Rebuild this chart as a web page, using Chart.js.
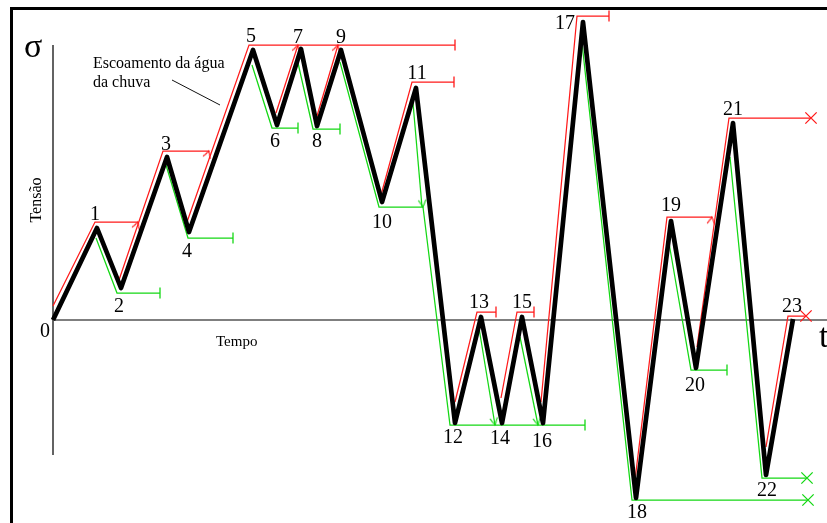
<!DOCTYPE html>
<html>
<head>
<meta charset="utf-8">
<script src="https://cdn.jsdelivr.net/npm/chart.js@4"></script>
<style>
  html, body { margin: 0; padding: 0; background: #fff; }
  #wrap { width: 827px; height: 523px; position: relative; }
</style>
</head>
<body>
<div id="wrap"><canvas id="rainflow"></canvas></div>
<script>
// turning points of the load history
const pointLabels = ['0', '1', '2', '3', '4', '5', '6', '7', '8', '9', '10', '11',
  '12', '13', '14', '15', '16', '17', '18', '19', '20', '21', '22', '23'];
const times = [0, 4.4, 6.8, 11.4, 13.6, 20.0, 22.4, 24.8, 26.4, 28.8, 32.9, 36.3,
  40.2, 42.8, 44.9, 46.9, 49.0, 53.0, 58.3, 61.8, 64.3, 68.0, 71.3, 74.0];
const stress = [0, 9.2, 3.2, 16.3, 8.8, 27.0, 19.5, 27.1, 19.4, 27.0, 11.8, 23.2,
  -10.3, 0.3, -10.3, 0.3, -10.3, 29.8, -17.8, 9.9, -4.8, 19.7, -15.5, 0.1];

// rain flow paths (time, stress); red runs up from the valleys, green down from the peaks
const redFlows = [
  [[0, 1.4], [4.2, 9.8], [8.5, 9.8]],
  [[6.6, 4.0], [11.0, 16.9], [15.6, 16.9]],
  [[13.4, 9.8], [19.6, 27.5], [40.2, 27.5]],
  [[22.3, 20.7], [24.5, 27.5]],
  [[26.4, 20.4], [28.5, 27.5]],
  [[32.8, 12.5], [35.9, 23.8], [40.1, 23.8]],
  [[40.2, -8.2], [42.4, 0.8], [44.3, 0.8]],
  [[44.8, -7.8], [46.4, 0.8], [48.1, 0.8]],
  [[48.8, -8.2], [52.4, 30.4], [55.6, 30.4]],
  [[58.2, -16.0], [61.4, 10.3], [65.9, 10.3]],
  [[64.4, -2.7], [67.6, 20.2], [75.8, 20.2]],
  [[71.3, -12.7], [73.5, 0.4], [75.3, 0.4]]
];
// how each flow ends; arrows follow the segment of the load path they drip onto
const redEnds = [
  { type: 'arrow', seg: 2 }, { type: 'arrow', seg: 4 }, { type: 'tick' },
  { type: 'arrow', seg: 6 }, { type: 'arrow', seg: 8 }, { type: 'tick' },
  { type: 'tick' }, { type: 'tick' }, { type: 'tick' },
  { type: 'arrow', seg: 20 }, { type: 'cross' }, { type: 'cross' }
];

const greenFlows = [
  [[4.3, 8.2], [6.4, 2.7], [10.7, 2.7]],
  [[11.3, 15.5], [13.5, 8.2], [18.0, 8.2]],
  [[19.9, 25.5], [21.9, 19.2], [24.5, 19.2]],
  [[24.5, 25.7], [26.0, 19.1], [28.7, 19.1]],
  [[28.7, 25.8], [32.6, 11.3], [37.0, 11.3]],
  [[37.0, 11.3], [39.7, -10.5], [53.2, -10.5]],
  [[36.0, 21.7], [36.9, 11.3]],
  [[42.6, -0.8], [44.2, -10.5]],
  [[46.7, -1.7], [48.5, -10.5]],
  [[52.9, 27.7], [57.9, -18.0], [75.5, -18.0]],
  [[61.6, 7.7], [63.8, -5.0], [67.4, -5.0]],
  [[67.7, 16.3], [70.9, -15.8], [75.4, -15.8]]
];
const greenEnds = [
  { type: 'tick' }, { type: 'tick' }, { type: 'tick' }, { type: 'tick' },
  { type: 'arrow', seg: 11 }, { type: 'tick' }, { type: 'none' },
  { type: 'arrow', seg: 13 }, { type: 'arrow', seg: 15 },
  { type: 'cross' }, { type: 'tick' }, { type: 'cross' }
];

// pixel offsets of the number labels from their turning point
const labelOffsets = [[-8, 10], [-2, -15], [-2, 17], [-1, -14], [-2, 18], [-2, -15],
  [-2, 15], [-3, -13], [0, 14], [0, -14], [0, 19], [1, -16], [-2, 13], [-2, -16],
  [-2, 14], [0, -16], [-1, 17], [-18, 0], [1, 13], [0, -17], [-1, 16], [0, -15],
  [1, 14], [-1, -14]];

const RED = '#ff1a1a';
const GREEN = '#14d814';
const SERIF = '"Liberation Serif", "Times New Roman", serif';

function makeArrow(color) {
  const c = document.createElement('canvas');
  c.width = 20;
  c.height = 20;
  const g = c.getContext('2d');
  const a = 28 * Math.PI / 180, len = 8;
  g.strokeStyle = color;
  g.lineWidth = 1.2;
  g.beginPath();
  g.moveTo(10 - len * Math.cos(a), 10 - len * Math.sin(a));
  g.lineTo(10, 10);
  g.lineTo(10 - len * Math.cos(a), 10 + len * Math.sin(a));
  g.stroke();
  return c;
}
const arrows = { [RED]: makeArrow(RED), [GREEN]: makeArrow(GREEN) };

function segAngle(chart, i) {
  const sx = chart.scales.x, sy = chart.scales.y;
  const dx = sx.getPixelForValue(times[i + 1]) - sx.getPixelForValue(times[i]);
  const dy = sy.getPixelForValue(stress[i + 1]) - sy.getPixelForValue(stress[i]);
  return Math.atan2(dy, dx) * 180 / Math.PI;
}

function flowDataset(flow, end, color) {
  const last = flow.length - 1;
  return {
    data: flow.map(p => ({ x: p[0], y: p[1] })),
    showLine: true,
    borderColor: color,
    borderWidth: 1.25,
    pointBorderColor: color,
    pointBackgroundColor: color,
    pointBorderWidth: 1.3,
    pointRadius: c => {
      if (c.dataIndex !== last || end.type === 'none') return 0;
      return end.type === 'cross' ? 8 : 5.5;
    },
    pointStyle: c => {
      if (c.dataIndex !== last) return 'circle';
      if (end.type === 'arrow') return arrows[color];
      return end.type === 'cross' ? 'crossRot' : 'line';
    },
    pointRotation: c => {
      if (end.type === 'arrow') return segAngle(c.chart, end.seg);
      return end.type === 'tick' ? 90 : 0;
    },
    clip: false
  };
}

const decorations = {
  id: 'decorations',
  beforeDraw(chart) {
    const ctx = chart.ctx;
    ctx.save();
    ctx.fillStyle = '#000';
    ctx.fillRect(10, 7, 3, 516);
    ctx.fillRect(10, 7, 817, 3);
    ctx.restore();
  },
  afterDraw(chart) {
    const ctx = chart.ctx, sx = chart.scales.x, sy = chart.scales.y;
    ctx.save();
    ctx.fillStyle = '#000';
    ctx.textAlign = 'center';
    ctx.textBaseline = 'alphabetic';
    ctx.font = '20px ' + SERIF;
    pointLabels.forEach((lab, i) => {
      const x = sx.getPixelForValue(times[i]) + labelOffsets[i][0];
      const y = sy.getPixelForValue(stress[i]) + labelOffsets[i][1] + 7;
      ctx.fillText(lab, x, y);
    });

    ctx.textAlign = 'left';
    ctx.font = '16px ' + SERIF;
    ctx.fillText('Escoamento da água', 93, 68);
    ctx.fillText('da chuva', 93, 87);
    ctx.font = '15px ' + SERIF;
    ctx.fillText('Tempo', 216, 346);

    ctx.font = '34px ' + SERIF;
    ctx.fillText('σ', 24, 57);
    ctx.fillText('t', 819, 347);

    ctx.translate(41, 200);
    ctx.rotate(-Math.PI / 2);
    ctx.textAlign = 'center';
    ctx.font = '16px ' + SERIF;
    ctx.fillText('Tensão', 0, 0);
    ctx.restore();
  }
};

const datasets = [{
  data: times.map((t, i) => ({ x: t, y: stress[i] })),
  showLine: true,
  borderColor: '#000',
  borderWidth: 4.7,
  borderJoinStyle: 'round',
  pointRadius: 0,
  clip: false
}];
redFlows.forEach((f, i) => datasets.push(flowDataset(f, redEnds[i], RED)));
greenFlows.forEach((f, i) => datasets.push(flowDataset(f, greenEnds[i], GREEN)));
// pointer of the annotation, then the two axes
datasets.push({ data: [{ x: 11.9, y: 24.0 }, { x: 16.7, y: 21.5 }], showLine: true,
  borderColor: '#111', borderWidth: 1, pointRadius: 0 });
datasets.push({ data: [{ x: 0, y: 0 }, { x: 77.4, y: 0 }], showLine: true,
  borderColor: '#555', borderWidth: 1.4, pointRadius: 0 });
datasets.push({ data: [{ x: 0, y: 27.5 }, { x: 0, y: -13.5 }], showLine: true,
  borderColor: '#222', borderWidth: 1.4, pointRadius: 0 });

new Chart(document.getElementById('rainflow'), {
  type: 'scatter',
  data: { datasets },
  options: {
    responsive: true,
    maintainAspectRatio: false,
    animation: false,
    events: [],
    layout: { padding: 0, autoPadding: false },
    scales: {
      x: { type: 'linear', display: false, min: -5.3, max: 77.4 },
      y: { type: 'linear', display: false, min: -20.3, max: 32.0 }
    },
    plugins: { legend: { display: false }, tooltip: { enabled: false } }
  },
  plugins: [decorations]
});
</script>
</body>
</html>
